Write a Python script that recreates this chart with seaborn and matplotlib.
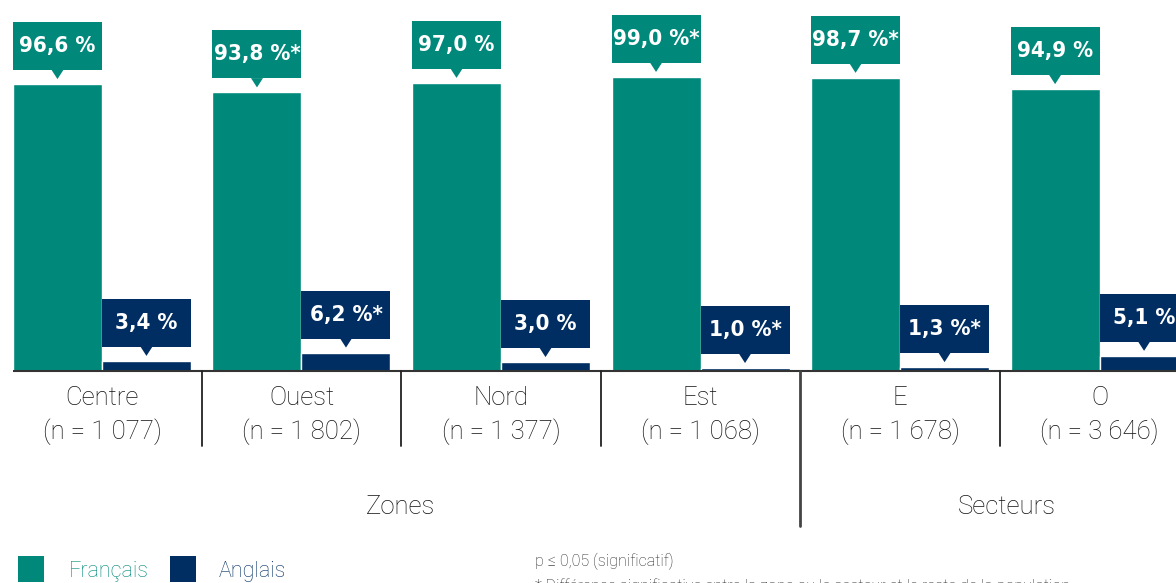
import numpy as np
import pandas as pd
import matplotlib
matplotlib.use("Agg")
import matplotlib.pyplot as plt
from matplotlib import font_manager as fm
from matplotlib.patches import Rectangle, Polygon
import seaborn as sns

# data
regions = ["Centre", "Ouest", "Nord", "Est", "E", "O"]
n_sizes = ["1 077", "1 802", "1 377", "1 068", "1 678", "3 646"]
francais = [96.6, 93.8, 97.0, 99.0, 98.7, 94.9]
anglais = [3.4, 6.2, 3.0, 1.0, 1.3, 5.1]
fr_sig = [False, True, False, True, True, False]
en_sig = [False, True, False, True, True, False]
groups = ["Zones", "Secteurs"]
group_sizes = [4, 2]
langues = ["Français", "Anglais"]

TEAL = "#00897B"
NAVY = "#002D62"

df = pd.DataFrame({
    "region": regions * 2,
    "langue": [langues[0]] * 6 + [langues[1]] * 6,
    "pct": francais + anglais,
})

sns.set_style("white")
plt.rcParams["font.family"] = ["Roboto", "DejaVu Sans"]

# pick a narrow bold face for the value boxes if one is installed
fonts = [(f.name, f.stretch, f.fname) for f in fm.fontManager.ttflist]
lab_font = dict(family=["Roboto", "DejaVu Sans"], fontsize=14.5)
if any(n == "Liberation Sans Narrow" for n, s, p in fonts):
    lab_font = dict(family=["Liberation Sans Narrow", "DejaVu Sans"], fontsize=19)
elif any("DejaVuSansCondensed-Bold" in p for n, s, p in fonts):
    path = [p for n, s, p in fonts if "DejaVuSansCondensed-Bold" in p][0]
    lab_font = dict(fontproperties=fm.FontProperties(fname=path, size=16))

W, H = 1176, 583
fig = plt.figure(figsize=(W / 100, H / 100), dpi=100)
ax = fig.add_axes([0, 0, 1, 1])

sns.barplot(data=df, x="region", y="pct", hue="langue", hue_order=langues,
            palette=[TEAL, NAVY], width=0.892, gap=0, saturation=1,
            legend=False, ax=ax)

# scale: ~2.97 px per %, baseline at pixel row 371
ppu = 2.97
base_px = 371
ax.set_ylim(-(H - base_px) / ppu, base_px / ppu)
ax.set_xlim(-0.511, 5.383)
ax.axis("off")

px_x = 199.5  # pixels per category unit


def fmt(v, sig):
    s = f"{v:.1f}".replace(".", ",") + " %"
    return s + "*" if sig else s


# callouts above each bar
for cont, vals, sigs, col in [(ax.containers[0], francais, fr_sig, TEAL),
                              (ax.containers[1], anglais, en_sig, NAVY)]:
    for bar, v, sg in zip(cont.patches, vals, sigs):
        x0 = bar.get_x()
        w = bar.get_width()
        xc = x0 + w / 2
        b0 = v + 14 / ppu
        bh = 48 / ppu
        ax.add_patch(Rectangle((x0, b0), w, bh, facecolor=col, edgecolor="none", zorder=3))
        hw = 6 / px_x
        ax.add_patch(Polygon([(xc - hw, b0 + 0.1), (xc + hw, b0 + 0.1), (xc, v + 5 / ppu)],
                             closed=True, facecolor=col, edgecolor="none", zorder=3))
        ax.text(xc, b0 + bh / 2, fmt(v, sg), ha="center", va="center", color="white",
                fontweight="bold", zorder=4, **lab_font)

# baseline
first_left = ax.containers[0].patches[0].get_x()
ax.plot([first_left, ax.get_xlim()[1]], [0, 0], color="#333333", lw=1.5,
        solid_capstyle="butt", zorder=5)

# category labels
for i, (r, n) in enumerate(zip(regions, n_sizes)):
    ax.text(i, -(398 - base_px) / ppu, r, ha="center", va="center",
            fontsize=18.5, fontweight="light", color="#111111")
    ax.text(i, -(432 - base_px) / ppu, f"(n = {n})", ha="center", va="center",
            fontsize=18.5, fontweight="light", color="#111111")

# separators
for i in range(len(regions) - 1):
    major = (i + 1) == group_sizes[0]
    y_end = -(526 - base_px) / ppu if major else -(446 - base_px) / ppu
    ax.plot([i + 0.5, i + 0.5], [0, y_end], color="#444444" if major else "#222222",
            lw=2 if major else 1.3, zorder=5)

# group labels
ax.text(1.495, -(507 - base_px) / ppu, groups[0], ha="center", va="center",
        fontsize=18.5, fontweight="light", color="#111111")
ax.text(4.535, -(507 - base_px) / ppu, groups[1], ha="center", va="center",
        fontsize=18.5, fontweight="light", color="#111111")

# legend
for lx, tx, lab, col in [(18, 69, langues[0], TEAL), (170, 219, langues[1], NAVY)]:
    fig.patches.append(Rectangle((lx / W, 1 - 582 / H), 26 / W, 26 / H,
                                 transform=fig.transFigure, facecolor=col,
                                 edgecolor="none"))
    fig.text(tx / W, 1 - 572 / H, lab, ha="left", va="center", fontsize=15.5,
             fontweight="light", color=col)

# footnotes
fig.text(535 / W, 1 - 561 / H, "p ≤ 0,05 (significatif)", ha="left", va="center",
         fontsize=11.5, fontweight="light", color="#222222")
fig.text(535 / W, 1 - 578 / H,
         "* Différence significative entre la zone ou le secteur et le reste de la population",
         ha="left", va="top", fontsize=11.5, fontweight="light", color="#222222")

fig.savefig("out.png", dpi=100)
